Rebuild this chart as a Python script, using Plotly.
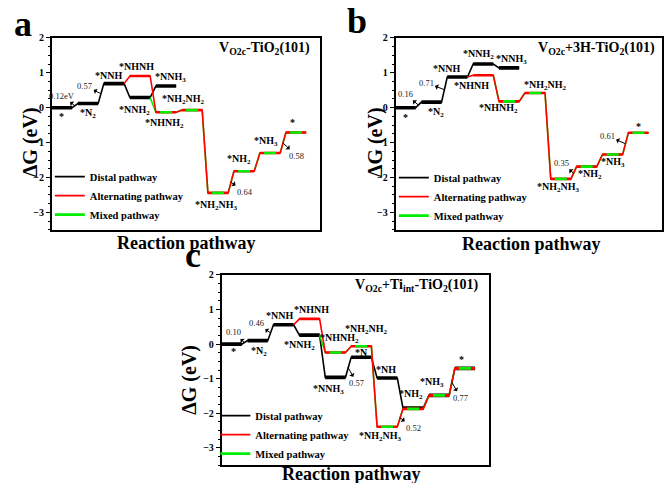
import plotly.graph_objects as go

W, H = 664, 483
FONT = "Liberation Serif, Times New Roman, serif"

# ---------------- data ----------------
# panel a : V_O2c-TiO2(101)
a_dist_step = [0, 1, 2, 3, 4]
a_dist_E = [0.00, 0.12, 0.69, 0.29, 0.62]
a_alt_step = [2, 3, 4, 5, 6, 7, 8, 9]
a_alt_E = [0.69, 0.91, -0.13, -0.07, -2.44, -1.82, -1.30, -0.71]
a_mix_step = [3, 4, 5, 6, 7, 8, 9]
a_mix_E = [0.29, -0.13, -0.07, -2.44, -1.82, -1.30, -0.71]

# panel b : V_O2c+3H-TiO2(101)
b_dist_step = [0, 1, 2, 3, 4]
b_dist_E = [0.00, 0.16, 0.88, 1.25, 1.14]
b_alt_step = [2, 3, 4, 5, 6, 7, 8, 9]
b_alt_E = [0.88, 0.93, 0.18, 0.42, -2.04, -1.69, -1.34, -0.72]
b_mix_step = [3, 4, 5, 6, 7, 8, 9]
b_mix_E = [0.93, 0.18, 0.42, -2.04, -1.69, -1.34, -0.72]

# panel c : V_O2c+Ti_int-TiO2(101)
c_dist_step = [0, 1, 2, 3, 4, 5, 6, 7, 8, 9]
c_dist_E = [0.00, 0.10, 0.56, 0.26, -0.96, -0.38, -0.98, -1.85, -1.48, -0.70]
c_alt_step = [2, 3, 4, 5, 6, 7, 8, 9]
c_alt_E = [0.56, 0.73, -0.24, -0.06, -2.39, -1.87, -1.48, -0.70]
c_mix_step = [3, 4, 5, 6, 7, 8, 9]
c_mix_E = [0.26, -0.24, -0.06, -2.39, -1.87, -1.48, -0.70]

# state labels: (text, step-coordinate, energy-coordinate)
a_labels = [("*", 0.38, -0.25), ("*N<sub>2</sub>", 1.38, -0.16), ("*NNH", 2.18, 0.93),
            ("*NHNH", 3.26, 1.19), ("*NNH<sub>3</sub>", 4.55, 0.86), ("*NNH<sub>2</sub>", 3.18, -0.08),
            ("*NH<sub>2</sub>NH<sub>2</sub>", 5.05, 0.23), ("*NHNH<sub>2</sub>", 4.33, -0.44),
            ("*NH<sub>2</sub>NH<sub>3</sub>", 6.32, -2.79), ("*NH<sub>2</sub>", 7.21, -1.49),
            ("*NH<sub>3</sub>", 8.24, -0.98), ("*", 9.24, -0.42)]
a_gaps = [("0.12eV", 0.875, 0.06, -13, -10), ("0.57", 1.875, 0.405, -16, -8),
          ("0.64", 6.875, -2.13, 14, 10), ("0.58", 8.875, -1.005, 14, 13)]

b_labels = [("*", 0.40, -0.28), ("*N<sub>2</sub>", 1.55, -0.13), ("*NNH", 1.98, 1.13),
            ("*NHNH", 2.94, 0.63), ("*NNH<sub>2</sub>", 3.22, 1.51), ("*NNH<sub>3</sub>", 4.50, 1.37),
            ("*NH<sub>2</sub>NH<sub>2</sub>", 5.8, 0.63), ("*NHNH<sub>2</sub>", 3.98, -0.02),
            ("*NH<sub>2</sub>NH<sub>3</sub>", 6.29, -2.28), ("*NH<sub>2</sub>", 7.52, -1.92),
            ("*NH<sub>3</sub>", 8.41, -1.58), ("*", 9.38, -0.54)]
b_gaps = [("0.16", 0.875, 0.08, -13, -11), ("0.71", 1.875, 0.52, -18, -7),
          ("0.35", 6.875, -1.87, -12, -10), ("0.61", 8.875, -1.03, -18, -8)]

c_labels = [("*", 0.45, -0.22), ("*N<sub>2</sub>", 1.45, -0.21), ("*NNH", 2.22, 0.84),
            ("*NHNH", 3.45, 1.01), ("*NNH<sub>2</sub>", 2.99, -0.04),
            ("*NH<sub>2</sub>NH<sub>2</sub>", 5.6, 0.41), ("*NHNH<sub>2</sub>", 4.55, 0.16),
            ("*N", 5.4, -0.24), ("*NNH<sub>3</sub>", 4.14, -1.30), ("*NH", 6.33, -0.73),
            ("*NH<sub>2</sub>", 7.3, -1.47), ("*NH<sub>3</sub>", 8.1, -1.10), ("*", 9.26, -0.45),
            ("*NH<sub>2</sub>NH<sub>3</sub>", 6.15, -2.67)]
c_gaps = [("0.10", 0.875, 0.05, -11, -10), ("0.46", 1.875, 0.33, -14, -10),
          ("0.57", 4.875, -0.67, 9, 16), ("0.52", 6.875, -2.125, 14, 10),
          ("0.77", 8.875, -1.09, 9, 16)]

titles = ["V<sub>O2c</sub>-TiO<sub>2</sub>(101)",
          "V<sub>O2c</sub>+3H-TiO<sub>2</sub>(101)",
          "V<sub>O2c</sub>+Ti<sub>int</sub>-TiO<sub>2</sub>(101)"]
letters = ["a", "b", "c"]
names = ["Distal pathway", "Alternating pathway", "Mixed pathway"]

# ---------------- helpers ----------------
PW = 0.78  # plateau width in step units


def path_xy(steps, E, skip_first):
    xs, ys = [], []
    for i, (k, e) in enumerate(zip(steps, E)):
        if i == 0 and skip_first:
            xs.append(k + PW); ys.append(e)
        else:
            xs += [k, k + PW]; ys += [e, e]
    return xs, ys


def plateau_xy(steps, E, skip_first, inset=0.0):
    xs, ys = [], []
    for i, (k, e) in enumerate(zip(steps, E)):
        if i == 0 and skip_first:
            continue
        xs += [k + inset, k + PW - inset, None]; ys += [e, e, None]
    return xs, ys


fig = go.Figure()

panels = [
    (a_dist_step, a_dist_E, a_alt_step, a_alt_E, a_mix_step, a_mix_E, a_labels, a_gaps),
    (b_dist_step, b_dist_E, b_alt_step, b_alt_E, b_mix_step, b_mix_E, b_labels, b_gaps),
    (c_dist_step, c_dist_E, c_alt_step, c_alt_E, c_mix_step, c_mix_E, c_labels, c_gaps),
]

# domains (paper fractions)
px = lambda v: v / W
py = lambda v: 1 - v / H
xdoms = [[px(52), px(320.7)], [px(396.7), 1.0], [px(222.3), px(490)]]
ydoms = [[py(227), py(32.3)], [py(227), py(32.3)], [py(465), py(272.3)]]
yranges = [[-3.51, 2.0], [-3.51, 2.0], [-3.5, 2.0]]
legends = ["legend", "legend2", "legend3"]

annotations = []
for p, (ds, dE, as_, aE, ms, mE, labs, gaps) in enumerate(panels):
    xa = "x" if p == 0 else f"x{p+1}"
    ya = "y" if p == 0 else f"y{p+1}"
    lg = legends[p]
    # distal
    x, y = path_xy(ds, dE, False)
    fig.add_trace(go.Scatter(x=x, y=y, xaxis=xa, yaxis=ya, mode="lines", name=names[0],
                             line=dict(color="black", width=1.6), legend=lg, showlegend=True))
    x, y = plateau_xy(ds, dE, False)
    fig.add_trace(go.Scatter(x=x, y=y, xaxis=xa, yaxis=ya, mode="lines", showlegend=False,
                             line=dict(color="black", width=3.6), hoverinfo="skip"))
    # mixed thin path (under red)
    x, y = path_xy(ms, mE, True)
    fig.add_trace(go.Scatter(x=x, y=y, xaxis=xa, yaxis=ya, mode="lines", showlegend=False,
                             line=dict(color="#00ee00", width=1.6), hoverinfo="skip"))
    # alternating
    x, y = path_xy(as_, aE, True)
    fig.add_trace(go.Scatter(x=x, y=y, xaxis=xa, yaxis=ya, mode="lines", name=names[1],
                             line=dict(color="#ff0000", width=1.6), legend=lg, showlegend=True))
    x, y = plateau_xy(as_, aE, True)
    fig.add_trace(go.Scatter(x=x, y=y, xaxis=xa, yaxis=ya, mode="lines", showlegend=False,
                             line=dict(color="#ff0000", width=2.6), hoverinfo="skip"))
    # mixed plateaus on top
    x, y = plateau_xy(ms, mE, True, inset=0.16)
    fig.add_trace(go.Scatter(x=x, y=y, xaxis=xa, yaxis=ya, mode="lines", name=names[2],
                             line=dict(color="#00ee00", width=2.6), legend=lg, showlegend=True,
                             hoverinfo="skip"))
    for t, lx, ly in labs:
        annotations.append(dict(text=t, x=lx, y=ly, xref=xa, yref=ya, showarrow=False,
                                xanchor="center", yanchor="middle",
                                font=dict(family=FONT, size=10, color="black", weight="bold")))
    for t, lx, ly, axo, ayo in gaps:
        annotations.append(dict(text=t, x=lx, y=ly, xref=xa, yref=ya, showarrow=True,
                                ax=axo, ay=ayo, arrowside="start", arrowhead=2, arrowsize=1,
                                arrowwidth=1, arrowcolor="black", standoff=0, startstandoff=0,
                                font=dict(family=FONT, size=8.5, color="#222222")))

    ax_key = "xaxis" if p == 0 else f"xaxis{p+1}"
    ay_key = "yaxis" if p == 0 else f"yaxis{p+1}"
    fig.layout[ax_key] = dict(domain=xdoms[p], range=[0, 10.3], showline=True, mirror=True,
                              linecolor="black", linewidth=1.6, showticklabels=False, ticks="",
                              showgrid=False, zeroline=False, anchor=ya)
    fig.layout[ay_key] = dict(domain=ydoms[p], range=yranges[p], showline=True, mirror=True,
                              linecolor="black", linewidth=1.6, ticks="outside", ticklen=4,
                              tickwidth=1.2, tickcolor="black", dtick=1, tick0=0,
                              minor=dict(ticks="outside", ticklen=2, dtick=0.25, tickcolor="black",
                                         showgrid=False),
                              showgrid=False, zeroline=False, anchor=xa,
                              tickfont=dict(family=FONT, size=10, color="black", weight="bold"))

# axis titles, panel titles, letters (paper pixel positions)
ytitle_pos = [(30, 138), (376, 138), (190, 378)]
xtitle_pos = [(187, 240), (533, 241), (353, 474)]
title_pos = [(313, 43), (659, 43), (481, 283)]
letter_pos = [(23, 18), (358, 15), (194, 252)]
for p in range(3):
    annotations.append(dict(text="ΔG (eV)", x=px(ytitle_pos[p][0]), y=py(ytitle_pos[p][1]),
                            xref="paper", yref="paper", showarrow=False, textangle=-90,
                            xanchor="center", yanchor="middle",
                            font=dict(family=FONT, size=20, color="black", weight="bold")))
    annotations.append(dict(text="Reaction pathway", x=px(xtitle_pos[p][0]), y=py(xtitle_pos[p][1]),
                            xref="paper", yref="paper", showarrow=False,
                            xanchor="center", yanchor="middle",
                            font=dict(family=FONT, size=18, color="black", weight="bold")))
    annotations.append(dict(text=titles[p], x=px(title_pos[p][0]), y=py(title_pos[p][1]),
                            xref="paper", yref="paper", showarrow=False, xanchor="right",
                            yanchor="middle",
                            font=dict(family=FONT, size=14, color="black", weight="bold")))
    annotations.append(dict(text=letters[p], x=px(letter_pos[p][0]), y=py(letter_pos[p][1]),
                            xref="paper", yref="paper", showarrow=False,
                            xanchor="center", yanchor="middle",
                            font=dict(family=FONT, size=36, color="black", weight="bold")))

legend_style = dict(bgcolor="rgba(0,0,0,0)", borderwidth=0, itemwidth=30, tracegroupgap=0,
                    font=dict(family=FONT, size=10.5, color="black", weight="bold"),
                    xanchor="left", yanchor="middle", traceorder="normal")
fig.update_layout(
    width=W, height=H, margin=dict(l=0, r=0, t=0, b=0),
    paper_bgcolor="white", plot_bgcolor="white",
    annotations=annotations,
    legend=dict(x=px(50), y=py(192), **legend_style),
    legend2=dict(x=px(395), y=py(193), **legend_style),
    legend3=dict(x=px(216), y=py(434), **legend_style),
)

fig.write_html("out.html", config={"displayModeBar": False},
               post_script="document.body.style.margin='0px';document.body.style.padding='0px';")
